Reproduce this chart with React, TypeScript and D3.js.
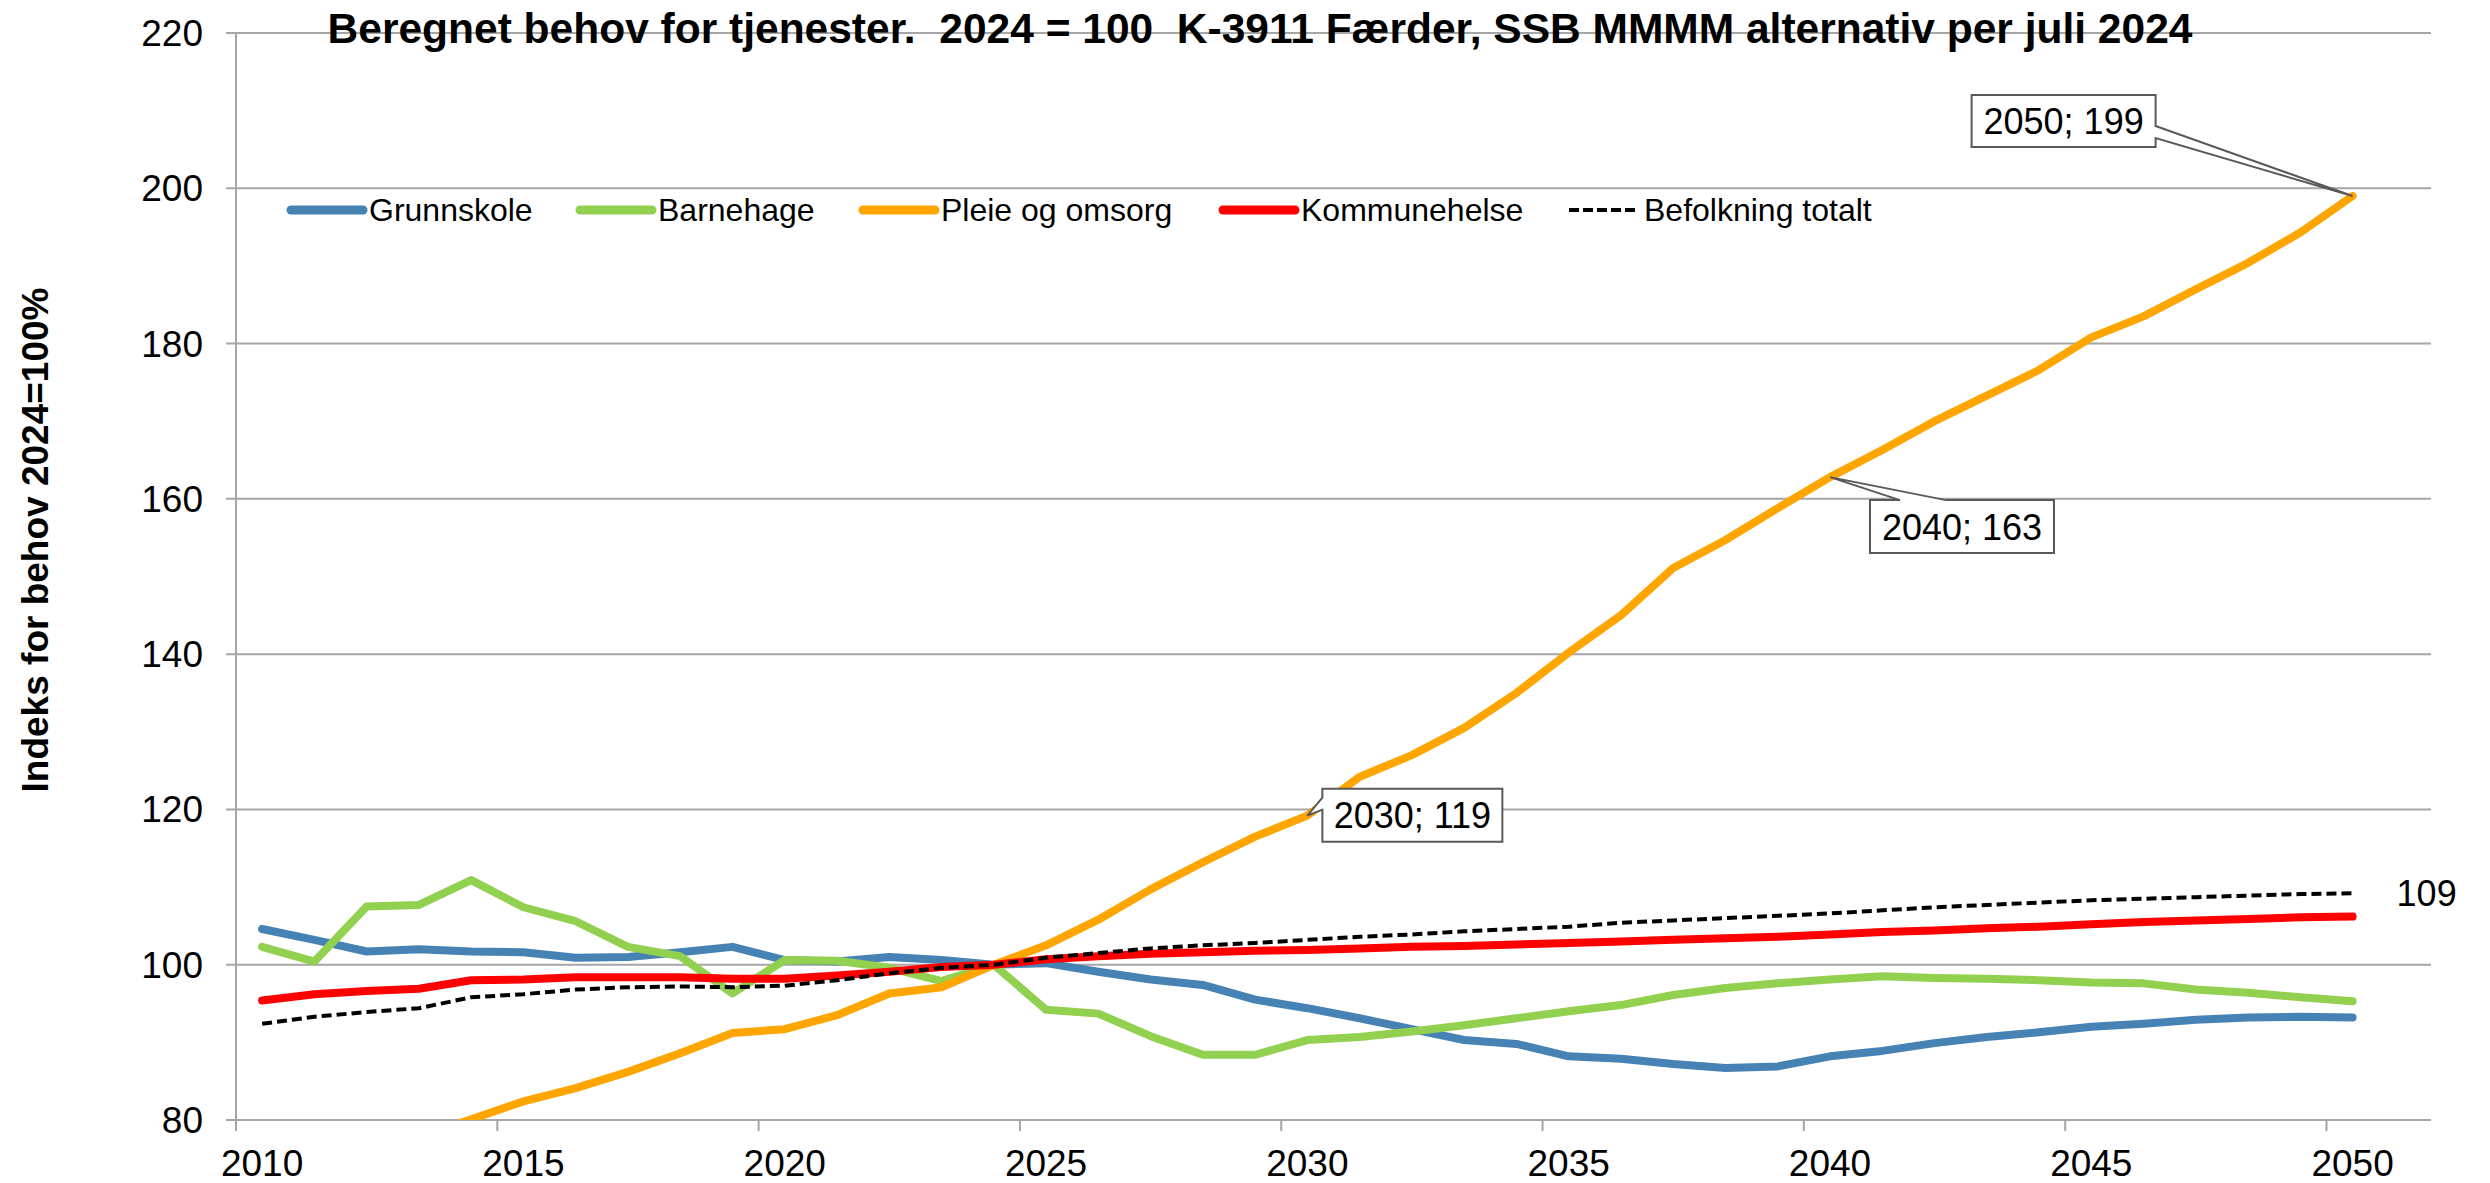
import { scaleLinear, line, range } from "d3";

const years = range(2010, 2051);

const grunnskole = [
  104.6, 103.2, 101.7, 102.0, 101.7, 101.6, 100.9, 101.0, 101.6, 102.3,
  100.6, 100.4, 101.0, 100.6, 100.0, 100.2, 99.1, 98.1, 97.4, 95.5,
  94.4, 93.1, 91.7, 90.3, 89.8, 88.2, 87.9, 87.2, 86.7, 86.9,
  88.2, 88.9, 89.9, 90.7, 91.3, 92.0, 92.4, 92.9, 93.2, 93.3, 93.2,
];
const barnehage = [
  102.3, 100.4, 107.5, 107.7, 110.9, 107.4, 105.6, 102.3, 101.1, 96.3,
  100.6, 100.5, 99.6, 97.9, 100.0, 94.2, 93.7, 90.8, 88.4, 88.4,
  90.3, 90.7, 91.4, 92.2, 93.1, 94.0, 94.8, 96.1, 97.0, 97.6,
  98.1, 98.5, 98.3, 98.2, 98.0, 97.7, 97.6, 96.8, 96.4, 95.8, 95.3,
];
const pleieOgOmsorg = [
  null, null, null, 77.8, 80.1, 82.4, 84.1, 86.2, 88.6, 91.2,
  91.7, 93.5, 96.3, 97.1, 100.0, 102.5, 105.8, 109.7, 113.2, 116.5,
  119.2, 124.2, 127.0, 130.5, 135.0, 140.2, 145.0, 151.1, 154.7, 158.8,
  162.8, 166.3, 170.0, 173.3, 176.6, 180.8, 183.5, 187.0, 190.4, 194.3, 199.0,
];
const kommunehelse = [
  95.4, 96.2, 96.6, 96.9, 98.0, 98.1, 98.4, 98.4, 98.4, 98.2,
  98.2, 98.6, 99.1, 99.7, 100.0, 100.7, 101.1, 101.4, 101.6, 101.8,
  101.9, 102.1, 102.3, 102.4, 102.6, 102.8, 103.0, 103.2, 103.4, 103.6,
  103.9, 104.2, 104.4, 104.7, 104.9, 105.2, 105.5, 105.7, 105.9, 106.1, 106.2,
];
const befolkning = [
  92.4, 93.3, 93.9, 94.4, 95.8, 96.2, 96.8, 97.1, 97.2, 97.1,
  97.3, 98.0, 98.9, 99.6, 100.0, 100.9, 101.5, 102.1, 102.5, 102.8,
  103.2, 103.6, 103.9, 104.3, 104.6, 104.9, 105.4, 105.7, 106.0, 106.3,
  106.6, 107.0, 107.4, 107.7, 108.0, 108.3, 108.5, 108.7, 108.9, 109.1, 109.2,
];

const yTicks = [80, 100, 120, 140, 160, 180, 200, 220];
const xLabels = [2010, 2015, 2020, 2025, 2030, 2035, 2040, 2045, 2050];

const series = [
  { name: "Grunnskole", values: grunnskole, color: "#4682B4", dashed: false },
  { name: "Barnehage", values: barnehage, color: "#92D050", dashed: false },
  { name: "Pleie og omsorg", values: pleieOgOmsorg, color: "#FFA500", dashed: false },
  { name: "Kommunehelse", values: kommunehelse, color: "#FF0000", dashed: false },
  { name: "Befolkning totalt", values: befolkning, color: "#000000", dashed: true },
];

// legend x positions (line start) for each item
const legendX = [291, 580, 863, 1223, 1569];

const font = "'Liberation Sans', Arial, sans-serif";
const W = 2490;
const H = 1183;
const left = 236;
const right = 2431;
const top = 33;
const bottom = 1120;

// category axis: each year is a band, points sit in the middle
const x = scaleLinear().domain([2009.5, 2051.5]).range([left, right]);
const y = scaleLinear().domain([80, 220]).range([bottom, top]);

const lineGen = line()
  .defined((d) => d[1] != null)
  .x((d) => x(d[0]))
  .y((d) => y(d[1]));

// callout box with a wedge pointing to (tx, ty)
function callout(x0, y0, w, h, side, a, b, tx, ty) {
  const x1 = x0 + w;
  const y1 = y0 + h;
  if (side === "top")
    return `M${x0},${y0}L${a},${y0}L${tx},${ty}L${b},${y0}L${x1},${y0}L${x1},${y1}L${x0},${y1}Z`;
  if (side === "right")
    return `M${x0},${y0}L${x1},${y0}L${x1},${a}L${tx},${ty}L${x1},${b}L${x1},${y1}L${x0},${y1}Z`;
  return `M${x0},${y0}L${x1},${y0}L${x1},${y1}L${x0},${y1}L${x0},${b}L${tx},${ty}L${x0},${a}Z`;
}

function Callout({ year, place }) {
  const i = years.indexOf(year);
  const v = pleieOgOmsorg[i];
  const px = x(year);
  const py = y(v);
  let box;
  if (place === "left") {
    const x0 = px + 15, y0 = py - 27;
    box = { x0, y0, w: 180, h: 53, d: callout(x0, y0, 180, 53, "left", py - 18, py - 6, px, py) };
  } else if (place === "top") {
    const x0 = px + 40, y0 = py + 23;
    box = { x0, y0, w: 184, h: 53, d: callout(x0, y0, 184, 53, "top", px + 70, px + 116, px, py) };
  } else {
    const x0 = px - 381, y0 = py - 101;
    box = { x0, y0, w: 184, h: 52, d: callout(x0, y0, 184, 52, "right", py - 70, py - 58, px, py) };
  }
  return (
    <g>
      <path d={box.d} fill="#fff" stroke="#595959" strokeWidth={2} />
      <text
        x={box.x0 + box.w / 2}
        y={box.y0 + box.h / 2 + 13}
        textAnchor="middle"
        fontSize={36}
        fontFamily={font}
      >
        {`${year}; ${Math.round(v)}`}
      </text>
    </g>
  );
}

function App() {
  const lastB = befolkning[befolkning.length - 1];
  return (
    <svg
      width={W}
      height={H}
      style={{ position: "absolute", left: 0, top: 0, background: "#fff" }}
    >
      <defs>
        <clipPath id="plot">
          <rect x={left} y={top - 10} width={right - left} height={bottom - top + 10} />
        </clipPath>
      </defs>

      {/* gridlines */}
      {yTicks.map((t) => (
        <g key={t}>
          <line x1={left - 10} x2={right} y1={y(t)} y2={y(t)} stroke="#a6a6a6" strokeWidth={2} />
          <text
            x={203}
            y={y(t) + 13}
            textAnchor="end"
            fontSize={37}
            fontFamily={font}
          >
            {t}
          </text>
        </g>
      ))}

      {/* axes */}
      <line x1={left} x2={left} y1={top} y2={bottom + 11} stroke="#a6a6a6" strokeWidth={2} />
      {xLabels.map((yr) => (
        <g key={yr}>
          <line
            x1={x(yr - 0.5)}
            x2={x(yr - 0.5)}
            y1={bottom}
            y2={bottom + 11}
            stroke="#a6a6a6"
            strokeWidth={2}
          />
          <text x={x(yr)} y={1176} textAnchor="middle" fontSize={37} fontFamily={font}>
            {yr}
          </text>
        </g>
      ))}

      <text
        transform="translate(48,540) rotate(-90)"
        textAnchor="middle"
        fontSize={37}
        fontWeight="bold"
        fontFamily={font}
      >
        Indeks for behov 2024=100%
      </text>

      {/* series */}
      <g clipPath="url(#plot)">
        {series.map((s) => (
          <path
            key={s.name}
            d={lineGen(years.map((yr, i) => [yr, s.values[i]]))}
            fill="none"
            stroke={s.color}
            strokeWidth={s.dashed ? 4 : 8}
            strokeDasharray={s.dashed ? "10 5" : null}
            strokeLinecap={s.dashed ? "butt" : "round"}
            strokeLinejoin="round"
          />
        ))}
      </g>

      {/* title */}
      <text
        x={1260}
        y={43}
        textAnchor="middle"
        fontSize={42.5}
        fontWeight="bold"
        fontFamily={font}
        style={{ whiteSpace: "pre" }}
      >
        {"Beregnet behov for tjenester.  2024 = 100  K-3911 Færder, SSB MMMM alternativ per juli 2024"}
      </text>

      {/* legend */}
      {series.map((s, i) => (
        <g key={s.name} transform={`translate(${legendX[i]},210)`}>
          <line
            x1={0}
            x2={s.dashed ? 67 : 72}
            y1={0}
            y2={0}
            stroke={s.color}
            strokeWidth={s.dashed ? 4 : 9}
            strokeDasharray={s.dashed ? "10 4" : null}
            strokeLinecap={s.dashed ? "butt" : "round"}
          />
          <text x={s.dashed ? 75 : 78} y={11} fontSize={32} fontFamily={font}>
            {s.name}
          </text>
        </g>
      ))}

      {/* data labels */}
      <Callout year={2030} place="left" />
      <Callout year={2040} place="top" />
      <Callout year={2050} place="right" />
      <text x={x(2050) + 44} y={y(lastB) + 13} fontSize={36} fontFamily={font}>
        {Math.round(lastB)}
      </text>
    </svg>
  );
}

export default App;
